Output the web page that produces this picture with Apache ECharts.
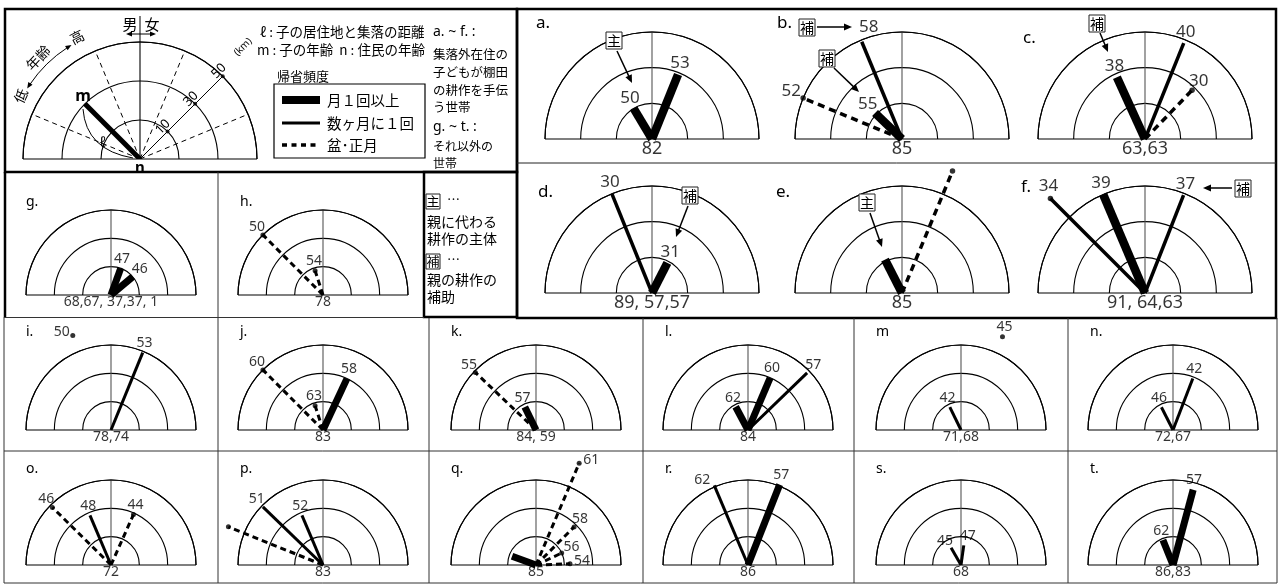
<!DOCTYPE html>
<html>
<head>
<meta charset="utf-8">
<script src="https://cdn.jsdelivr.net/npm/echarts@6/dist/echarts.min.js"></script>
<style>
html,body{margin:0;padding:0;background:#fff;}
#c{width:1280px;height:584px;}
</style>
</head>
<body>
<div id="c"></div>
<script>
// ---- households (panels) ----
const panelIds = ['a','b','c','d','e','f','g','h','i','j','k','l','m','n','o','p','q','r','s','t'];
const panelLetters = ['a.','b.','c.','d.','e.','f.','g.','h.','i.','j.','k.','l.','m','n.','o.','p.','q.','r.','s.','t.'];
// ages of the residents living in the settlement (n)
const residentAges = ['82','85','63,63','89, 57,57','85','91, 64,63','68,67, 37,37, 1','78','78,74','83',
                      '84, 59','84','71,68','72,67','72','83','85','86','68','86,83'];

// ---- children living outside the settlement ----
const markPanel = ['a','a', 'b','b','b', 'c','c','c', 'd','d', 'e','e', 'f','f','f', 'g','g', 'h','h',
                   'i','i', 'j','j','j', 'k','k', 'l','l','l', 'm','m', 'n','n', 'o','o','o', 'p','p','p',
                   'q','q','q','q','q', 'r','r', 's','s', 't','t'];
const markAge   = ['50','53', '58','55','52', '38','40','30', '30','31', '','', '34','39','37', '47','46', '50','54',
                   '53','50', '60','63','58', '55','57', '62','60','57', '42','45', '46','42', '46','48','44', '51','52','',
                   '','61','58','56','54', '62','57', '45','47', '62','57'];
// 男 = son (left half), 女 = daughter (right half)
const markSide  = ['男','女', '男','男','男', '男','女','女', '男','女', '男','女', '男','男','女', '女','女', '男','男',
                   '女','男', '男','男','女', '男','男', '男','女','女', '男','女', '男','女', '男','男','女', '男','男','男',
                   '男','女','女','女','女', '男','女', '男','女', '男','女'];
// angle from the horizontal (degrees): child's age position
const markAngle = [59,68, 67.5,44,22.5, 65.5,68,46, 68,63, 63,67.5, 45,67,68.5, 70,40, 45,72,
                   67.7,68, 45,72,65, 43.5,64, 62,67,44, 64,66, 63,69, 44.5,67,66, 44,67,22,
                   20,67,45,25,2, 67,68.5, 60,82, 68,75];
// distance between the child's residence and the settlement (km)
const markKm    = [10,29, 49,11,50, 28,48,28, 50,9.5, 11,64, 65,50,49, 10,10, 50,9,
                   49,62, 50,9,30, 49,9, 9.3,30,48, 9,62, 9,29, 48,28,29, 49,28,62,
                   9,68,28,10,14, 51,51, 7,7, 9.5,45];
// frequency of visits home
const markFreq  = ['月1回以上','月1回以上', '数ヶ月に1回','月1回以上','盆・正月', '月1回以上','数ヶ月に1回','盆・正月',
                   '数ヶ月に1回','月1回以上', '月1回以上','盆・正月', '数ヶ月に1回','月1回以上','数ヶ月に1回',
                   '月1回以上','月1回以上', '盆・正月','盆・正月', '数ヶ月に1回','不明',
                   '盆・正月','盆・正月','月1回以上', '盆・正月','月1回以上', '月1回以上','月1回以上','数ヶ月に1回',
                   '数ヶ月に1回','不明', '数ヶ月に1回','数ヶ月に1回', '盆・正月','数ヶ月に1回','盆・正月',
                   '数ヶ月に1回','数ヶ月に1回','盆・正月', '月1回以上','盆・正月','盆・正月','盆・正月','盆・正月',
                   '数ヶ月に1回','月1回以上', '数ヶ月に1回','数ヶ月に1回', '月1回以上','月1回以上'];

// radial scale: rings at 10, 30, 50 km
const ringKm = [0, 10, 30, 50];
function kmToRing(km) {
  if (km <= ringKm[1]) return km / ringKm[1];
  if (km <= ringKm[2]) return 1 + (km - ringKm[1]) / (ringKm[2] - ringKm[1]);
  return 2 + (km - ringKm[2]) / (ringKm[3] - ringKm[2]);
}
const FREQS = ['月1回以上', '数ヶ月に1回', '盆・正月'];

// ---- layout ----
const LAT = "'Noto Sans', 'Noto Sans CJK JP', sans-serif";
const JP = "'Noto Sans CJK JP', 'Noto Sans', sans-serif";
const KEY = {cx: 140, cy: 159, R: 117};

function layoutOf(id) {
  const i = panelIds.indexOf(id);
  if (i < 6) {
    const col = i % 3, row = Math.floor(i / 3);
    return {cx: [652, 902, 1145][col], cy: [139, 293][row], R: 107, big: true};
  }
  if (i < 8) return {cx: [111, 323][i - 6], cy: 295, R: 85, big: false};
  const k = i - 8, col = k % 6, row = Math.floor(k / 6);
  return {cx: [111, 323, 536, 748, 961, 1173][col], cy: [430, 565][row], R: 85, big: false};
}
function letterPos(id) {
  const i = panelIds.indexOf(id);
  if (i < 6) return [[536, 23], [777, 23], [1023, 38], [538, 192], [776, 192], [1021, 187]][i];
  if (i < 8) return [[26, 202], [240, 202]][i - 6];
  const k = i - 8;
  return [[26, 240, 451, 665, 876, 1090][k % 6], [332, 469][Math.floor(k / 6)]];
}
const labelNudge = {'b:58': [7, -15], 'i:50': [-11, -3], 'f:34': [-2, -12], 'q:61': [12, -3], 'r:62': [-12, -5],
                    's:45': [-6, -7], 's:47': [4, -9]};

function strokeFor(freq, big) {
  if (freq === '月1回以上') return {w: big ? 8.5 : 7, dash: null};
  if (freq === '数ヶ月に1回') return {w: big ? 3.5 : 3, dash: null};
  return {w: big ? 3.5 : 3, dash: big ? [7, 5] : [6, 4]};
}

// ---- polar systems: key first, then one per household ----
const polars = [{center: [KEY.cx, KEY.cy], radius: KEY.R}];
const angleAxes = [];
const radiusAxes = [];
function addAxes(pi, vColor) {
  angleAxes.push({
    polarIndex: pi, type: 'value', min: 0, max: 180, interval: 90,
    startAngle: 180, endAngle: 0, clockwise: true,
    axisLine: {show: true, lineStyle: {color: '#000', width: 1.1}},
    axisTick: {show: false}, axisLabel: {show: false},
    splitLine: {show: true, lineStyle: {color: ['#000', vColor, '#000'], width: 1.1}}
  });
  radiusAxes.push({
    polarIndex: pi, type: 'value', min: 0, max: 3, interval: 1,
    axisLine: {show: false}, axisTick: {show: false}, axisLabel: {show: false},
    splitLine: {show: true, lineStyle: {color: '#000', width: 1.1}}
  });
}
addAxes(0, '#000');
panelIds.forEach((id, i) => {
  const L = layoutOf(id);
  polars.push({center: [L.cx, L.cy], radius: L.R});
  addAxes(i + 1, '#555');
});

const series = [];
const pointData = panelIds.map(() => []);
const lineData = panelIds.map(() => []);

for (let k = 0; k < markPanel.length; k++) {
  const id = markPanel[k];
  const pi = panelIds.indexOf(id);
  const L = layoutOf(id);
  const ang = markSide[k] === '男' ? markAngle[k] : 180 - markAngle[k];
  const u = kmToRing(markKm[k]);
  const f = markFreq[k];
  if (f !== '不明') lineData[pi].push([u, ang, FREQS.indexOf(f)]);
  const th = (180 - ang) * Math.PI / 180;
  const c = Math.cos(th), s = Math.sin(th);
  let off = L.big ? [c * 14 * Math.abs(c), -(s * 9 + 3)] : [c * 12 * Math.abs(c), -(s * 7 + 3)];
  const key = id + ':' + markAge[k];
  if (labelNudge[key]) off = labelNudge[key];
  const dot = f === '盆・正月' || f === '不明' || u > 3.2;
  pointData[pi].push({
    value: [u, ang],
    symbolSize: dot ? (L.big ? 5.5 : 5) : 0,
    itemStyle: {color: dot ? '#000' : 'transparent'},
    label: {show: markAge[k] !== '', formatter: markAge[k], position: 'inside', offset: off,
            color: '#000', fontSize: L.big ? 17 : 14, fontFamily: LAT}
  });
}

panelIds.forEach((id, i) => {
  const L = layoutOf(id);
  // visit lines, drawn from the centre (n) out to each child's position
  lineData[i].sort((p, q) => p[2] - q[2]);
  series.push({
    type: 'custom', coordinateSystem: 'polar', polarIndex: i + 1, silent: true, clip: false, z: 3,
    data: lineData[i],
    renderItem: function (params, api) {
      const u = api.value(0), a = api.value(1);
      const st = strokeFor(FREQS[api.value(2)], L.big);
      const p0 = api.coord([0, a]), p1 = api.coord([u, a]);
      return {type: 'line', shape: {x1: p0[0], y1: p0[1], x2: p1[0], y2: p1[1]},
              style: {stroke: '#000', lineWidth: st.w, lineDash: st.dash, lineCap: 'butt', fill: null}};
    }
  });
  pointData[i].push({
    value: [0, 90], symbolSize: 0, itemStyle: {color: 'transparent'},
    label: {show: true, formatter: residentAges[i], position: 'bottom', distance: L.big ? 1 : 0,
            color: '#000', fontSize: L.big ? 18 : 14, fontFamily: LAT}
  });
  series.push({
    type: 'scatter', coordinateSystem: 'polar', polarIndex: i + 1, symbol: 'circle',
    data: pointData[i], silent: true, z: 6, clip: false
  });
});

// ---- key diagram (polar 0) ----
const keyGuideAngles = [22.5, 67.5, 112.5, 157.5];
keyGuideAngles.forEach(a => series.push({
  type: 'line', coordinateSystem: 'polar', polarIndex: 0, data: [[0, a], [3, a]],
  symbol: 'none', silent: true, lineStyle: {color: '#000', width: 1, type: [5, 4]}
}));
series.push({
  type: 'line', coordinateSystem: 'polar', polarIndex: 0, data: [[0, 135], [3, 135]],
  symbol: 'none', silent: true, lineStyle: {color: '#000', width: 1}
});
series.push({
  type: 'scatter', coordinateSystem: 'polar', polarIndex: 0, silent: true,
  data: [[1, 135], [2, 135], [3, 135]], symbolSize: 4, itemStyle: {color: '#000'}
});
series.push({
  type: 'line', coordinateSystem: 'polar', polarIndex: 0, data: [[0, 45], [2, 45]],
  symbol: 'none', silent: true, lineStyle: {color: '#000', width: 5}, z: 4
});

// ---- graphic helpers ----
const G = [];
function txt(text, x, y, fs, opt) {
  opt = opt || {};
  G.push({type: 'text', x, y, z: 20, rotation: opt.rot || 0,
    style: {text, fontSize: fs, fontFamily: opt.font || JP, fill: '#000',
            align: opt.align || 'left', verticalAlign: 'middle',
            fontWeight: opt.weight || 'normal', fontStyle: opt.style || 'normal'}});
}
function seg(x1, y1, x2, y2, w, dash, col) {
  G.push({type: 'line', z: 15, shape: {x1, y1, x2, y2},
    style: {stroke: col || '#000', lineWidth: w, lineDash: dash || null}});
}
function head(x, y, a, L, H) {
  const bx = x - L * Math.cos(a), by = y - L * Math.sin(a);
  G.push({type: 'polygon', z: 20, shape: {points: [[x, y], [bx + H * Math.sin(a), by - H * Math.cos(a)], [bx - H * Math.sin(a), by + H * Math.cos(a)]]},
    style: {fill: '#000'}});
}
function arrow(x1, y1, x2, y2, w) {
  const a = Math.atan2(y2 - y1, x2 - x1);
  seg(x1, y1, x2 - 7 * Math.cos(a), y2 - 7 * Math.sin(a), w);
  head(x2, y2, a, 8, 3.5);
}
function boxed(ch, x, y, size, fs) {
  G.push({type: 'rect', z: 20, shape: {x: x - size / 2, y: y - size / 2, width: size, height: size + 1},
    style: {fill: '#fff', stroke: '#222', lineWidth: 1}});
  txt(ch, x, y + 0.5, fs, {align: 'center'});
}

// frames
G.push({type: 'rect', z: 1, shape: {x: 5, y: 9, width: 512, height: 163}, style: {fill: null, stroke: '#000', lineWidth: 2.5}});
G.push({type: 'rect', z: 1, shape: {x: 517, y: 9, width: 759, height: 309}, style: {fill: null, stroke: '#000', lineWidth: 2.5}});
G.push({type: 'rect', z: 1, shape: {x: 424, y: 172, width: 93, height: 145}, style: {fill: null, stroke: '#000', lineWidth: 2.5}});
seg(517, 163, 1276, 163, 1, null, '#222');
seg(5, 172, 5, 317, 2.5);
seg(4, 317, 4, 583, 1, null, '#333');
seg(4, 317.5, 424, 317.5, 1, null, '#333');
seg(4, 451, 1277, 451, 1, null, '#333');
seg(4, 583, 1277, 583, 1, null, '#333');
seg(1277, 318, 1277, 583, 1, null, '#333');
seg(218, 172, 218, 583, 1, null, '#333');
[429, 643, 854, 1068].forEach(x => seg(x, 318, x, 583, 1, null, '#333'));

// panel letters
panelIds.forEach((id, i) => {
  const p = letterPos(id), L = layoutOf(id);
  txt(panelLetters[i], p[0], p[1], L.big ? 17 : 14, {font: LAT});
});

// helper notes (主 / 補)
const notes = [
  ['主', 'a', [-38, -99], [-35, -88], [-20, -56]],
  ['補', 'b', [-95, -112], [-85, -112], [-50, -112]],
  ['補', 'b', [-75, -81], [-68, -71], [-43, -47]],
  ['補', 'c', [-48, -116], [-45, -106], [-37, -87]],
  ['補', 'd', [38, -98], [36, -87], [24, -56]],
  ['主', 'e', [-35, -91], [-32, -80], [-20, -46]],
  ['補', 'f', [98, -105], [87, -105], [58, -105]]
];
notes.forEach(n => {
  const L = layoutOf(n[1]);
  boxed(n[0], L.cx + n[2][0], L.cy + n[2][1], 16, 14);
  arrow(L.cx + n[3][0], L.cy + n[3][1], L.cx + n[4][0], L.cy + n[4][1], 1.5);
});

// key: decorations
seg(KEY.cx, KEY.cy - KEY.R, KEY.cx, 16, 1);
txt('男', 130, 24, 15, {align: 'center'});
txt('女', 152, 24, 15, {align: 'center'});
seg(131, 34, 151, 34, 1);
head(126, 34, Math.PI, 6, 2.5);
head(156, 34, 0, 6, 2.5);
G.push({type: 'arc', z: 15, shape: {cx: KEY.cx, cy: KEY.cy, r: 133, startAngle: -146 * Math.PI / 180, endAngle: -123 * Math.PI / 180, clockwise: true},
  style: {stroke: '#000', lineWidth: 1, fill: null}});
(function () {
  const a1 = 148 * Math.PI / 180, a2 = 121 * Math.PI / 180;
  const p1 = [KEY.cx + 133 * Math.cos(a1), KEY.cy - 133 * Math.sin(a1)];
  const p2 = [KEY.cx + 133 * Math.cos(a2), KEY.cy - 133 * Math.sin(a2)];
  head(p1[0], p1[1], Math.atan2(-Math.cos(a1), -Math.sin(a1)), 6, 2.5);
  head(p2[0], p2[1], Math.atan2(Math.cos(a2), Math.sin(a2)), 6, 2.5);
})();
txt('低', 21, 96, 14, {align: 'center', rot: 65 * Math.PI / 180});
txt('年齢', 38, 58, 14, {align: 'center', rot: 47 * Math.PI / 180});
txt('高', 77, 37, 14, {align: 'center', rot: 27 * Math.PI / 180});
txt('10', 163, 127, 13, {align: 'center', font: LAT, rot: Math.PI / 4});
txt('30', 191, 99, 13, {align: 'center', font: LAT, rot: Math.PI / 4});
txt('50', 219, 71, 13, {align: 'center', font: LAT, rot: Math.PI / 4});
txt('(km)', 243, 47, 10, {align: 'center', font: LAT, rot: Math.PI / 4});
G.push({type: 'bezierCurve', z: 15, shape: {x1: 83, y1: 109, cpx1: 86, cpy1: 150, x2: 133, y2: 158},
  style: {stroke: '#000', lineWidth: 1, fill: null}});
txt('ℓ', 103, 143, 15, {align: 'center', font: LAT, style: 'italic'});
txt('m', 83, 96, 16, {align: 'center', font: LAT, weight: 'bold'});
txt('n', 140, 168, 15, {align: 'center', font: LAT, weight: 'bold'});

// key: texts and legend
txt('ℓ : 子の居住地と集落の距離', 260, 32, 13.5);
txt('m : 子の年齢  n : 住民の年齢', 257, 50, 13.5);
txt('帰省頻度', 277, 76, 13);
G.push({type: 'rect', z: 15, shape: {x: 274, y: 84, width: 151, height: 74}, style: {fill: null, stroke: '#000', lineWidth: 1.2}});
seg(282, 100, 320, 100, 8);
txt('月１回以上', 327, 100, 14.5);
seg(282, 123, 320, 123, 3);
txt('数ヶ月に１回', 327, 123, 14.5);
seg(282, 145, 320, 145, 3.5, [5, 4.5]);
txt('盆･正月', 327, 145, 14.5);

txt('a. ~ f. :', 433, 32, 14, {font: LAT});
txt('集落外在住の', 433, 54, 12.5);
txt('子どもが棚田', 433, 72, 12.5);
txt('の耕作を手伝', 433, 90, 12.5);
txt('う世帯', 433, 107, 12.5);
txt('g. ~ t. :', 433, 127, 14, {font: LAT});
txt('それ以外の', 433, 146, 12);
txt('世帯', 433, 163, 12);

boxed('主', 433, 201, 14, 13);
txt('…', 447, 199, 13);
txt('親に代わる', 427, 222, 14);
txt('耕作の主体', 427, 239, 14);
boxed('補', 433, 261, 14, 13);
txt('…', 447, 259, 13);
txt('親の耕作の', 427, 280, 14);
txt('補助', 427, 297, 14);

const chart = echarts.init(document.getElementById('c'), null, {renderer: 'canvas', width: 1280, height: 584});
chart.setOption({
  animation: false,
  backgroundColor: '#fff',
  polar: polars,
  angleAxis: angleAxes,
  radiusAxis: radiusAxes,
  series: series,
  graphic: {elements: G}
});
</script>
</body>
</html>
